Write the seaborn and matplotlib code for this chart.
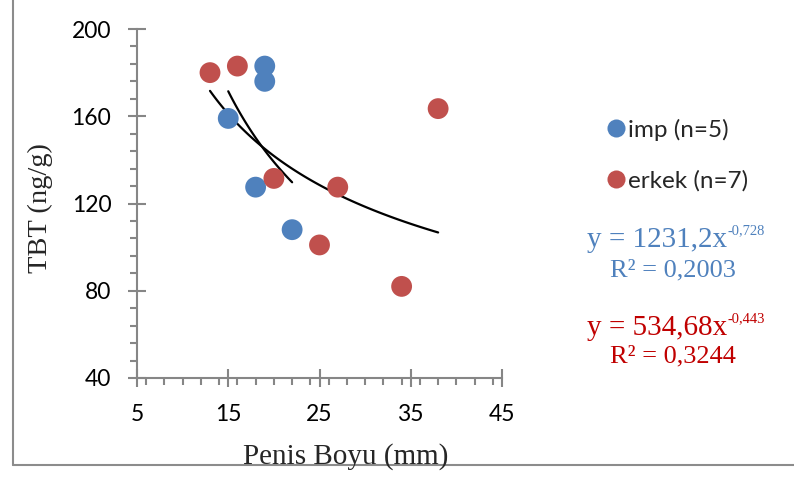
import numpy as np
import pandas as pd
import matplotlib
matplotlib.use("Agg")
import matplotlib.pyplot as plt
from matplotlib.lines import Line2D
from matplotlib.ticker import MultipleLocator
import seaborn as sns

# ---- data ----
imp_x = [19, 19, 15, 18, 22]
imp_y = [183, 176, 159, 127.5, 108]
erkek_x = [13, 16, 20, 27, 25, 34, 38]
erkek_y = [180, 183, 131.5, 127.5, 101, 82, 163.5]
group_labels = ["imp (n=5)", "erkek (n=7)"]
# power-law trend coefficients shown on the chart: y = a * x^b
imp_fit = (1231.2, -0.728)
erkek_fit = (534.68, -0.443)
imp_eq = ["y = 1231,2x", "-0,728", "R² = 0,2003"]
erkek_eq = ["y = 534,68x", "-0,443", "R² = 0,3244"]
xticks = [5, 15, 25, 35, 45]
yticks = [40, 80, 120, 160, 200]

df = pd.DataFrame({
    "x": imp_x + erkek_x,
    "y": imp_y + erkek_y,
    "g": [group_labels[0]] * len(imp_x) + [group_labels[1]] * len(erkek_x),
})

sns.set_style("white")
plt.rcParams["font.family"] = ["Lato", "DejaVu Sans"]

blue = "#4F81BD"
red = "#C0504D"
eqblue = "#4F81BD"
eqred = "#C00000"
axcol = "#868686"

W, H = 794, 479
fig = plt.figure(figsize=(W / 100, H / 100), dpi=100)
ax = fig.add_axes([137 / W, 1 - 378 / H, (502 - 137) / W, (378 - 29) / H])

sns.scatterplot(data=df, x="x", y="y", hue="g", palette=[blue, red],
                s=225, edgecolor="none", ax=ax, legend=False, zorder=3)

for xs, (a, b) in [(imp_x, imp_fit), (erkek_x, erkek_fit)]:
    xx = np.linspace(min(xs), max(xs), 100)
    ax.plot(xx, a * xx ** b, color="black", lw=1.6, zorder=2)

ax.set_xlim(5, 45)
ax.set_ylim(40, 200)
ax.set_xticks(xticks)
ax.set_yticks(yticks)
ax.xaxis.set_minor_locator(MultipleLocator(2))
ax.yaxis.set_minor_locator(MultipleLocator(8))
for s in ["top", "right"]:
    ax.spines[s].set_visible(False)
for s in ["left", "bottom"]:
    ax.spines[s].set_color(axcol)
    ax.spines[s].set_linewidth(1.5)
ax.tick_params(which="both", bottom=True, left=True, top=False, right=False)
ax.tick_params(which="major", direction="inout", length=13, width=1.5, color=axcol,
               labelsize=16.5, labelcolor="black")
ax.tick_params(which="minor", direction="out", length=5, width=1.5, color=axcol)
ax.tick_params(axis="x", which="major", pad=12)
ax.tick_params(axis="y", which="major", pad=12)
ax.set_xlabel("")
ax.set_ylabel("")

serif = ["Liberation Serif", "DejaVu Serif"]
fig.text(346 / W, 1 - 457 / H, "Penis Boyu (mm)", family=serif, fontsize=21,
         ha="center", va="center")
fig.text(40 / W, 1 - 208 / H, "TBT (ng/g)", family=serif, fontsize=20.5,
         ha="center", va="center", rotation=90)

# legend
handles = [Line2D([], [], marker="o", ls="none", markersize=13, color=c, markeredgewidth=0)
           for c in (blue, red)]
fig.legend(handles, group_labels, loc="center left",
           bbox_to_anchor=(604 / W, 1 - 155 / H), frameon=False,
           fontsize=17.5, handletextpad=0.0, labelspacing=1.2, handlelength=1.0,
           borderaxespad=0, borderpad=0)

# equations with superscript exponents
fig.canvas.draw()
renderer = fig.canvas.get_renderer()
for (eq, col, y1, y2) in [(imp_eq, eqblue, 240, 270), (erkek_eq, eqred, 328, 356)]:
    t = fig.text(587 / W, 1 - y1 / H, eq[0], family=serif, fontsize=21, color=col,
                 ha="left", va="center")
    bb = t.get_window_extent(renderer)
    fig.text(bb.x1 / W, 1 - (y1 - 9) / H, eq[1], family=serif, fontsize=10.5, color=col,
             ha="left", va="center")
    fig.text(673 / W, 1 - y2 / H, eq[2], family=serif, fontsize=19, color=col,
             ha="center", va="center")

# chart border (left and bottom visible)
fig.add_artist(Line2D([13 / W, 13 / W], [1, 1 - 465 / H], transform=fig.transFigure,
                      color="#8c8c8c", lw=1.5))
fig.add_artist(Line2D([13 / W, 1], [1 - 465 / H, 1 - 465 / H], transform=fig.transFigure,
                      color="#8c8c8c", lw=1.5))

fig.savefig("out.png", dpi=100)
